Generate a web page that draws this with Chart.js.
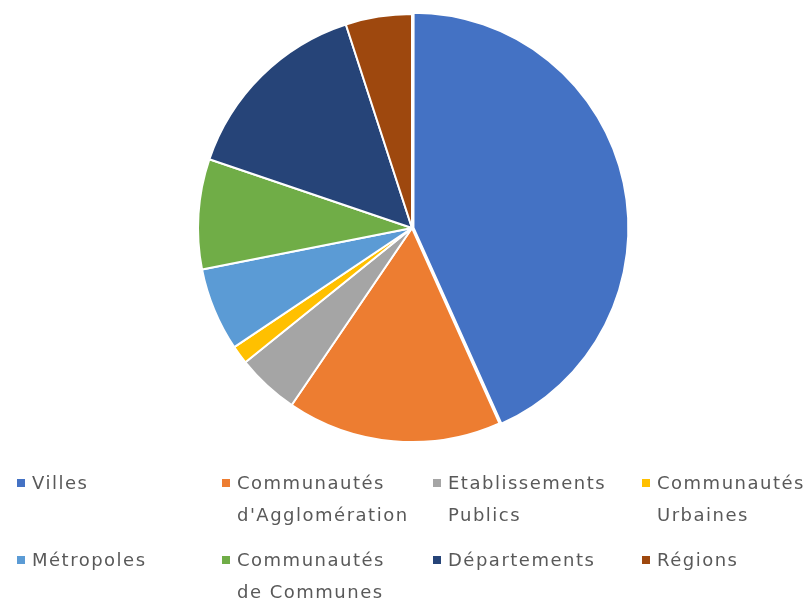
<!DOCTYPE html>
<html>
<head>
<meta charset="utf-8">
<script src="https://cdn.jsdelivr.net/npm/chart.js@4.4.0/dist/chart.umd.min.js"></script>
<style>
    body { margin: 0; background: #fff; width: 810px; height: 598px; overflow: hidden; }
    #wrap { position: absolute; left: 0; top: 0; width: 810px; height: 456px; }
    #legend { position: absolute; left: 0; top: 0; width: 810px; height: 598px; pointer-events: none; }
    .item { position: absolute; font-family: "DejaVu Sans", sans-serif; font-size: 18px; line-height: 32px;
            color: #595959; letter-spacing: 1.5px; }
    .box { position: absolute; width: 8px; height: 8px; }
</style>
</head>
<body>
<div id="wrap"><canvas id="pieChart"></canvas></div>
<div id="legend"></div>
<script>
// Répartition par type de collectivité (%)
const categories = [
    'Villes',
    "Communautés d'Agglomération",
    'Etablissements Publics',
    'Communautés Urbaines',
    'Métropoles',
    'Communautés de Communes',
    'Départements',
    'Régions'
];
const shares = [43.3, 16.2, 4.7, 1.4, 6.3, 8.3, 14.8, 5.0];
const colors = ['#4472C4', '#ED7D31', '#A5A5A5', '#FFC000', '#5B9BD5', '#70AD47', '#264478', '#9E480E'];

class PieChart {
    constructor() {
        this.init();
    }

    init() {
        this.createChart();
        this.buildLegend();
    }

    createChart() {
        const ctx = document.getElementById('pieChart').getContext('2d');
        this.chart = new Chart(ctx, {
            type: 'pie',
            data: {
                labels: categories,
                datasets: [{
                    data: shares,
                    backgroundColor: colors,
                    borderColor: '#ffffff',
                    borderWidth: 2,
                    offset: [6, 0, 0, 0, 0, 0, 0, 0]
                }]
            },
            options: {
                responsive: true,
                maintainAspectRatio: false,
                animation: false,
                radius: 214,
                layout: { padding: { left: 14 } },
                plugins: {
                    legend: { display: false },
                    tooltip: { enabled: false }
                }
            }
        });
    }

    buildLegend() {
        // légende HTML : 2 lignes x 4 colonnes
        const legend = document.getElementById('legend');
        const colLeft = [17, 222, 433, 642];
        const colWidth = [190, 175, 200, 165];
        const rowTop = [467, 544];

        categories.forEach((name, n) => {
            const col = n % 4;
            const row = Math.floor(n / 4);

            const box = document.createElement('div');
            box.className = 'box';
            box.style.background = colors[n];
            box.style.left = colLeft[col] + 'px';
            box.style.top = (rowTop[row] + 12) + 'px';
            legend.appendChild(box);

            const item = document.createElement('div');
            item.className = 'item';
            item.textContent = name;
            item.style.left = (colLeft[col] + 15) + 'px';
            item.style.top = rowTop[row] + 'px';
            item.style.width = colWidth[col] + 'px';
            legend.appendChild(item);
        });
    }
}

document.addEventListener('DOMContentLoaded', () => {
    new PieChart();
});
</script>
</body>
</html>
